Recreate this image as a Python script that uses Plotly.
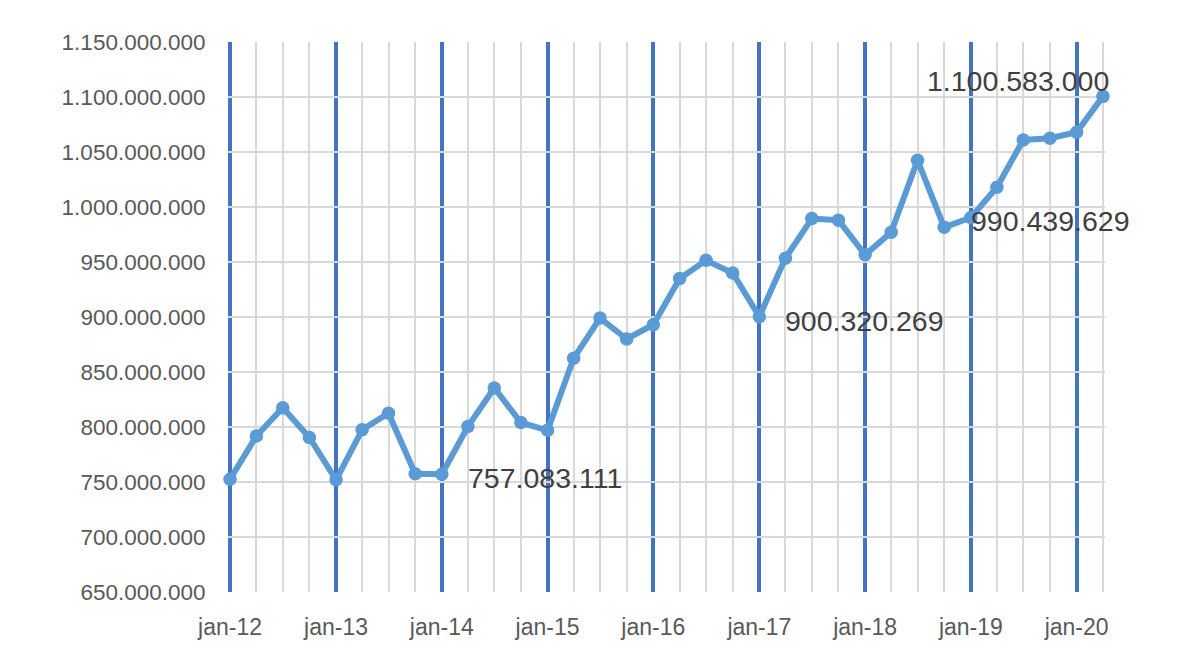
import plotly.graph_objects as go

quarters = [
    "2012-01-01", "2012-04-01", "2012-07-01", "2012-10-01",
    "2013-01-01", "2013-04-01", "2013-07-01", "2013-10-01",
    "2014-01-01", "2014-04-01", "2014-07-01", "2014-10-01",
    "2015-01-01", "2015-04-01", "2015-07-01", "2015-10-01",
    "2016-01-01", "2016-04-01", "2016-07-01", "2016-10-01",
    "2017-01-01", "2017-04-01", "2017-07-01", "2017-10-01",
    "2018-01-01", "2018-04-01", "2018-07-01", "2018-10-01",
    "2019-01-01", "2019-04-01", "2019-07-01", "2019-10-01",
    "2020-01-01", "2020-04-01",
]
values = [
    752500000, 791800000, 817500000, 790500000,
    752000000, 797500000, 812500000, 757500000,
    757083111, 800500000, 835500000, 804000000,
    797000000, 862500000, 899000000, 880000000,
    893000000, 935000000, 951500000, 940000000,
    900320269, 953500000, 989500000, 988000000,
    956500000, 977000000, 1042500000, 981500000,
    990439629, 1018000000, 1061000000, 1062500000,
    1068000000, 1100583000,
]
year_ticks = ["2012-01-01", "2013-01-01", "2014-01-01", "2015-01-01", "2016-01-01",
              "2017-01-01", "2018-01-01", "2019-01-01", "2020-01-01"]
year_labels = ["jan-12", "jan-13", "jan-14", "jan-15", "jan-16",
               "jan-17", "jan-18", "jan-19", "jan-20"]
y_ticks = [650000000, 700000000, 750000000, 800000000, 850000000, 900000000,
           950000000, 1000000000, 1050000000, 1100000000, 1150000000]
labeled_points = [8, 20, 28, 33]

def fmt(v):
    return f"{v:,.0f}".replace(",", ".")

fig = go.Figure()
fig.add_trace(go.Scatter(
    x=quarters, y=values, mode="lines+markers",
    line=dict(color="#5B9BD5", width=6),
    marker=dict(color="#5B9BD5", size=13.5),
    cliponaxis=False,
    showlegend=False, hoverinfo="skip",
))

label_style = {
    8: dict(xanchor="left", yanchor="middle", xshift=24, yshift=-4),
    20: dict(xanchor="left", yanchor="middle", xshift=24, yshift=-4),
    28: dict(xanchor="left", yanchor="middle", xshift=-2, yshift=-3),
    33: dict(xanchor="right", yanchor="middle", xshift=8, yshift=15),
}
for i in labeled_points:
    fig.add_annotation(
        x=quarters[i], y=values[i], text=fmt(values[i]), showarrow=False,
        font=dict(family="Liberation Sans", size=28.5, color="#404040"),
        **label_style[i],
    )

fig.update_layout(
    width=1170, height=654,
    margin=dict(l=220, r=73, t=34, b=70),
    paper_bgcolor="white", plot_bgcolor="white",
    separators=",.",
    font=dict(family="Liberation Sans", size=23, color="#595959"),
)
fig.update_xaxes(
    type="date",
    range=["2011-12-25", "2020-04-08"],
    tickvals=year_ticks, ticktext=year_labels,
    showgrid=True, gridcolor="#4472C4", gridwidth=4,
    minor=dict(dtick="M3", tick0="2012-01-01", showgrid=True,
               gridcolor="#D9D9D9", gridwidth=2),
    ticks="outside", ticklen=14, tickcolor="rgba(0,0,0,0)",
    showline=False, zeroline=False,
)
fig.update_yaxes(
    range=[y_ticks[0], y_ticks[-1]],
    tickvals=y_ticks, tickformat=",d",
    tickfont=dict(size=22.5),
    showgrid=True, gridcolor="#D9D9D9", gridwidth=2,
    ticks="outside", ticklen=17, tickcolor="rgba(0,0,0,0)",
    showline=False, zeroline=False,
)
fig.write_html("out.html")
